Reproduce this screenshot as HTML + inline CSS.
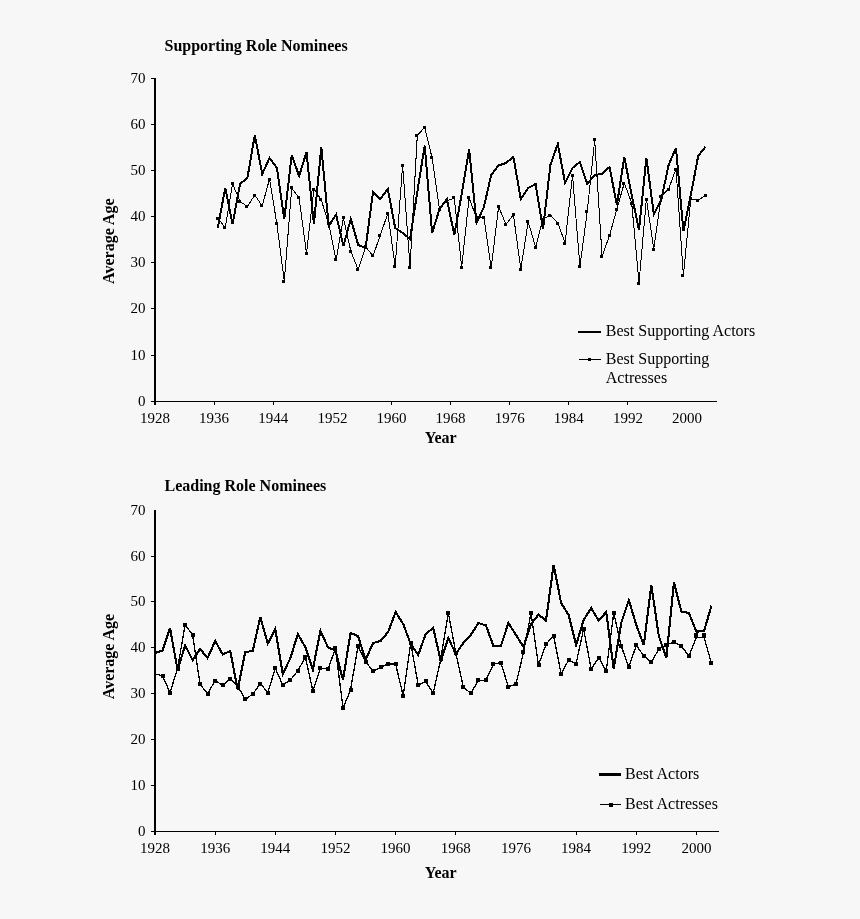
<!DOCTYPE html>
<html><head><meta charset="utf-8"><title>Chart</title><style>html,body{margin:0;padding:0;background:#f7f7f7}body{width:860px;height:919px;overflow:hidden}svg{display:block;will-change:transform}</style></head><body>
<svg width="860" height="919" viewBox="0 0 860 919">
<style>.t{font:15px "Liberation Serif",serif;fill:#000}.b{font:bold 16px "Liberation Serif",serif;fill:#000}.l{font:16px "Liberation Serif",serif;fill:#000}</style>
<text x="164.5" y="50.5" class="b">Supporting Role Nominees</text>
<rect x="154" y="78" width="2" height="327" fill="#000"/>
<rect x="154" y="401" width="563" height="1" fill="#000"/>
<rect x="151" y="401" width="4" height="1" fill="#000"/>
<text x="145.5" y="406" text-anchor="end" class="t">0</text>
<rect x="151" y="355" width="4" height="1" fill="#000"/>
<text x="145.5" y="360" text-anchor="end" class="t">10</text>
<rect x="151" y="308" width="4" height="1" fill="#000"/>
<text x="145.5" y="313" text-anchor="end" class="t">20</text>
<rect x="151" y="262" width="4" height="1" fill="#000"/>
<text x="145.5" y="267" text-anchor="end" class="t">30</text>
<rect x="151" y="216" width="4" height="1" fill="#000"/>
<text x="145.5" y="221" text-anchor="end" class="t">40</text>
<rect x="151" y="170" width="4" height="1" fill="#000"/>
<text x="145.5" y="175" text-anchor="end" class="t">50</text>
<rect x="151" y="124" width="4" height="1" fill="#000"/>
<text x="145.5" y="129" text-anchor="end" class="t">60</text>
<rect x="151" y="78" width="4" height="1" fill="#000"/>
<text x="145.5" y="83" text-anchor="end" class="t">70</text>
<text x="155.0" y="422.5" text-anchor="middle" class="t">1928</text>
<rect x="214" y="401" width="1" height="4" fill="#000"/>
<text x="214.1" y="422.5" text-anchor="middle" class="t">1936</text>
<rect x="273" y="401" width="1" height="4" fill="#000"/>
<text x="273.2" y="422.5" text-anchor="middle" class="t">1944</text>
<text x="332.4" y="422.5" text-anchor="middle" class="t">1952</text>
<rect x="391" y="401" width="1" height="4" fill="#000"/>
<text x="391.5" y="422.5" text-anchor="middle" class="t">1960</text>
<rect x="450" y="401" width="1" height="4" fill="#000"/>
<text x="450.6" y="422.5" text-anchor="middle" class="t">1968</text>
<rect x="509" y="401" width="1" height="4" fill="#000"/>
<text x="509.7" y="422.5" text-anchor="middle" class="t">1976</text>
<rect x="568" y="401" width="1" height="4" fill="#000"/>
<text x="568.8" y="422.5" text-anchor="middle" class="t">1984</text>
<rect x="627" y="401" width="1" height="4" fill="#000"/>
<text x="628.0" y="422.5" text-anchor="middle" class="t">1992</text>
<text x="687.1" y="422.5" text-anchor="middle" class="t">2000</text>
<text x="440.7" y="443" text-anchor="middle" class="b">Year</text>
<text transform="translate(113.8,241.2) rotate(-90)" text-anchor="middle" class="b">Average Age</text>
<g shape-rendering="crispEdges" fill="none" stroke="#000" stroke-linejoin="miter">
<polyline points="217.8,218.4 225.2,227.4 232.6,184.0 240.0,201.4 247.4,206.4 254.8,195.0 262.2,206.0 269.5,179.0 276.9,224.0 284.3,281.4 291.7,188.0 299.1,198.0 306.5,253.2 313.9,189.0 321.3,200.0 328.7,224.0 336.1,259.8 343.4,218.0 350.8,251.0 358.2,269.8 365.6,246.8 373.0,256.0 380.4,235.0 387.8,213.4 395.2,266.4 402.6,165.0 410.0,267.0 417.3,135.4 424.7,127.4 432.1,158.0 439.5,209.0 446.9,201.0 454.3,198.0 461.7,267.0 469.1,198.0 476.5,218.0 483.9,217.0 491.2,268.0 498.6,206.6 506.0,224.6 513.4,214.6 520.8,269.0 528.2,221.8 535.6,247.0 543.0,219.0 550.4,215.0 557.8,223.0 565.1,243.0 572.5,175.0 579.9,266.4 587.3,211.0 594.7,140.0 602.1,256.4 609.5,235.6 616.9,209.0 624.3,183.0 631.7,203.0 639.0,283.0 646.4,199.0 653.8,249.0 661.2,196.6 668.6,189.0 676.0,169.0 683.4,275.6 690.8,198.6 698.2,200.6 705.6,195.0" stroke-width="1"/>
<polyline points="217.8,228.0 225.2,188.0 232.6,224.0 240.0,184.0 247.4,178.0 254.8,135.0 262.2,174.0 269.5,158.0 276.9,168.0 284.3,219.0 291.7,155.0 299.1,176.0 306.5,152.2 313.9,224.0 321.3,147.2 328.7,226.0 336.1,214.6 343.4,246.0 350.8,219.0 358.2,245.0 365.6,248.0 373.0,192.0 380.4,199.0 387.8,189.0 395.2,228.0 402.6,233.0 410.0,239.0 417.3,192.0 424.7,145.6 432.1,233.0 439.5,209.0 446.9,199.0 454.3,235.0 461.7,194.0 469.1,149.2 476.5,223.0 483.9,207.0 491.2,175.0 498.6,165.4 506.0,163.0 513.4,157.0 520.8,199.0 528.2,188.0 535.6,184.0 543.0,229.0 550.4,165.0 557.8,144.0 565.1,183.0 572.5,168.0 579.9,162.0 587.3,184.0 594.7,175.0 602.1,174.0 609.5,167.0 616.9,205.0 624.3,157.0 631.7,195.0 639.0,230.0 646.4,158.0 653.8,214.0 661.2,200.0 668.6,165.0 676.0,148.0 683.4,231.0 690.8,195.0 698.2,156.0 705.6,146.6" stroke-width="2"/>
</g>
<g fill="#000" shape-rendering="crispEdges"><rect x="216" y="217" width="3" height="3"/><rect x="223" y="226" width="3" height="3"/><rect x="231" y="182" width="3" height="3"/><rect x="238" y="200" width="3" height="3"/><rect x="245" y="205" width="3" height="3"/><rect x="253" y="194" width="3" height="3"/><rect x="260" y="204" width="3" height="3"/><rect x="268" y="178" width="3" height="3"/><rect x="275" y="222" width="3" height="3"/><rect x="282" y="280" width="3" height="3"/><rect x="290" y="186" width="3" height="3"/><rect x="297" y="196" width="3" height="3"/><rect x="305" y="252" width="3" height="3"/><rect x="312" y="188" width="3" height="3"/><rect x="319" y="198" width="3" height="3"/><rect x="327" y="222" width="3" height="3"/><rect x="334" y="258" width="3" height="3"/><rect x="342" y="216" width="3" height="3"/><rect x="349" y="250" width="3" height="3"/><rect x="356" y="268" width="3" height="3"/><rect x="364" y="245" width="3" height="3"/><rect x="371" y="254" width="3" height="3"/><rect x="378" y="234" width="3" height="3"/><rect x="386" y="212" width="3" height="3"/><rect x="393" y="265" width="3" height="3"/><rect x="401" y="164" width="3" height="3"/><rect x="408" y="266" width="3" height="3"/><rect x="415" y="134" width="3" height="3"/><rect x="423" y="126" width="3" height="3"/><rect x="430" y="156" width="3" height="3"/><rect x="438" y="208" width="3" height="3"/><rect x="445" y="200" width="3" height="3"/><rect x="452" y="196" width="3" height="3"/><rect x="460" y="266" width="3" height="3"/><rect x="467" y="196" width="3" height="3"/><rect x="475" y="216" width="3" height="3"/><rect x="482" y="216" width="3" height="3"/><rect x="489" y="266" width="3" height="3"/><rect x="497" y="205" width="3" height="3"/><rect x="504" y="223" width="3" height="3"/><rect x="512" y="213" width="3" height="3"/><rect x="519" y="268" width="3" height="3"/><rect x="526" y="220" width="3" height="3"/><rect x="534" y="246" width="3" height="3"/><rect x="541" y="218" width="3" height="3"/><rect x="548" y="214" width="3" height="3"/><rect x="556" y="222" width="3" height="3"/><rect x="563" y="242" width="3" height="3"/><rect x="571" y="174" width="3" height="3"/><rect x="578" y="265" width="3" height="3"/><rect x="585" y="210" width="3" height="3"/><rect x="593" y="138" width="3" height="3"/><rect x="600" y="255" width="3" height="3"/><rect x="608" y="234" width="3" height="3"/><rect x="615" y="208" width="3" height="3"/><rect x="622" y="182" width="3" height="3"/><rect x="630" y="202" width="3" height="3"/><rect x="637" y="282" width="3" height="3"/><rect x="645" y="198" width="3" height="3"/><rect x="652" y="248" width="3" height="3"/><rect x="659" y="195" width="3" height="3"/><rect x="667" y="188" width="3" height="3"/><rect x="674" y="168" width="3" height="3"/><rect x="681" y="274" width="3" height="3"/><rect x="689" y="197" width="3" height="3"/><rect x="696" y="199" width="3" height="3"/><rect x="704" y="194" width="3" height="3"/></g>
<rect x="578" y="331" width="23" height="2" fill="#000"/>
<text x="605.8" y="336" class="l">Best Supporting Actors</text>
<rect x="579" y="359" width="22" height="1" fill="#000"/><rect x="588" y="358" width="3" height="3" fill="#000"/>
<text x="605.8" y="364" class="l">Best Supporting</text>
<text x="605.8" y="382.6" class="l">Actresses</text>
<text x="164.5" y="491" class="b">Leading Role Nominees</text>
<rect x="154" y="510" width="2" height="325" fill="#000"/>
<rect x="154" y="831" width="565" height="1" fill="#000"/>
<rect x="151" y="831" width="4" height="1" fill="#000"/>
<text x="145.5" y="836" text-anchor="end" class="t">0</text>
<rect x="151" y="785" width="4" height="1" fill="#000"/>
<text x="145.5" y="790" text-anchor="end" class="t">10</text>
<rect x="151" y="739" width="4" height="1" fill="#000"/>
<text x="145.5" y="744" text-anchor="end" class="t">20</text>
<rect x="151" y="693" width="4" height="1" fill="#000"/>
<text x="145.5" y="698" text-anchor="end" class="t">30</text>
<rect x="151" y="647" width="4" height="1" fill="#000"/>
<text x="145.5" y="652" text-anchor="end" class="t">40</text>
<rect x="151" y="601" width="4" height="1" fill="#000"/>
<text x="145.5" y="606" text-anchor="end" class="t">50</text>
<rect x="151" y="556" width="4" height="1" fill="#000"/>
<text x="145.5" y="561" text-anchor="end" class="t">60</text>
<text x="145.5" y="515" text-anchor="end" class="t">70</text>
<text x="155.0" y="853" text-anchor="middle" class="t">1928</text>
<rect x="215" y="831" width="1" height="4" fill="#000"/>
<text x="215.2" y="853" text-anchor="middle" class="t">1936</text>
<rect x="275" y="831" width="1" height="4" fill="#000"/>
<text x="275.3" y="853" text-anchor="middle" class="t">1944</text>
<rect x="335" y="831" width="1" height="4" fill="#000"/>
<text x="335.5" y="853" text-anchor="middle" class="t">1952</text>
<rect x="395" y="831" width="1" height="4" fill="#000"/>
<text x="395.6" y="853" text-anchor="middle" class="t">1960</text>
<rect x="455" y="831" width="1" height="4" fill="#000"/>
<text x="455.8" y="853" text-anchor="middle" class="t">1968</text>
<text x="516.0" y="853" text-anchor="middle" class="t">1976</text>
<rect x="576" y="831" width="1" height="4" fill="#000"/>
<text x="576.1" y="853" text-anchor="middle" class="t">1984</text>
<rect x="636" y="831" width="1" height="4" fill="#000"/>
<text x="636.3" y="853" text-anchor="middle" class="t">1992</text>
<rect x="696" y="831" width="1" height="4" fill="#000"/>
<text x="696.4" y="853" text-anchor="middle" class="t">2000</text>
<text x="440.7" y="878" text-anchor="middle" class="b">Year</text>
<text transform="translate(113.8,656.5) rotate(-90)" text-anchor="middle" class="b">Average Age</text>
<g shape-rendering="crispEdges" fill="none" stroke="#000" stroke-linejoin="miter">
<polyline points="155.0,674.0 162.5,675.6 170.0,692.6 177.6,668.6 185.1,624.6 192.6,635.0 200.1,684.4 207.6,693.6 215.2,680.6 222.7,685.4 230.2,678.6 237.7,686.0 245.2,699.4 252.8,694.0 260.3,683.6 267.8,692.6 275.3,668.4 282.8,685.0 290.4,680.0 297.9,670.6 305.4,657.0 312.9,691.0 320.4,668.0 328.0,669.0 335.5,648.4 343.0,708.0 350.5,690.4 358.0,646.0 365.6,662.0 373.1,671.0 380.6,667.4 388.1,664.0 395.6,664.0 403.2,696.0 410.7,643.0 418.2,685.0 425.7,681.4 433.2,693.4 440.8,659.0 448.3,612.6 455.8,653.0 463.3,687.0 470.8,693.4 478.4,680.4 485.9,680.4 493.4,664.0 500.9,662.6 508.4,687.0 516.0,684.0 523.5,652.4 531.0,613.0 538.5,665.0 546.0,644.4 553.6,635.6 561.1,674.0 568.6,660.0 576.1,663.6 583.6,629.0 591.2,669.0 598.7,657.6 606.2,671.0 613.7,613.0 621.2,646.0 628.8,667.0 636.3,645.4 643.8,656.0 651.3,662.4 658.8,649.0 666.4,645.0 673.9,642.0 681.4,646.0 688.9,656.0 696.4,637.2 704.0,637.2 711.5,663.4" stroke-width="1.3"/>
<polyline points="155.0,653.0 162.5,650.6 170.0,628.0 177.6,670.0 185.1,645.4 192.6,660.0 200.1,649.0 207.6,658.0 215.2,641.0 222.7,654.4 230.2,651.0 237.7,689.4 245.2,652.4 252.8,650.6 260.3,617.0 267.8,643.6 275.3,629.0 282.8,674.0 290.4,658.0 297.9,634.0 305.4,647.4 312.9,669.4 320.4,630.6 328.0,647.4 335.5,650.6 343.0,680.0 350.5,633.0 358.0,636.0 365.6,660.0 373.1,643.0 380.6,641.0 388.1,632.0 395.6,612.0 403.2,624.0 410.7,644.0 418.2,655.0 425.7,634.0 433.2,628.0 440.8,661.0 448.3,638.0 455.8,654.0 463.3,643.0 470.8,635.0 478.4,623.0 485.9,625.4 493.4,646.0 500.9,646.0 508.4,623.0 516.0,635.0 523.5,647.0 531.0,624.0 538.5,614.6 546.0,620.6 553.6,565.0 561.1,603.0 568.6,615.0 576.1,645.0 583.6,620.0 591.2,608.0 598.7,620.6 606.2,612.0 613.7,669.0 621.2,623.0 628.8,600.0 636.3,625.0 643.8,645.0 651.3,585.0 658.8,636.0 666.4,658.0 673.9,582.2 681.4,611.6 688.9,613.0 696.4,631.6 704.0,631.2 711.5,605.6" stroke-width="2.1"/>
</g>
<g fill="#000" shape-rendering="crispEdges"><rect x="161" y="674" width="4" height="4"/><rect x="168" y="691" width="4" height="4"/><rect x="176" y="667" width="4" height="4"/><rect x="183" y="623" width="4" height="4"/><rect x="191" y="633" width="4" height="4"/><rect x="198" y="682" width="4" height="4"/><rect x="206" y="692" width="4" height="4"/><rect x="213" y="679" width="4" height="4"/><rect x="221" y="683" width="4" height="4"/><rect x="228" y="677" width="4" height="4"/><rect x="236" y="684" width="4" height="4"/><rect x="243" y="697" width="4" height="4"/><rect x="251" y="692" width="4" height="4"/><rect x="258" y="682" width="4" height="4"/><rect x="266" y="691" width="4" height="4"/><rect x="273" y="666" width="4" height="4"/><rect x="281" y="683" width="4" height="4"/><rect x="288" y="678" width="4" height="4"/><rect x="296" y="669" width="4" height="4"/><rect x="303" y="655" width="4" height="4"/><rect x="311" y="689" width="4" height="4"/><rect x="318" y="666" width="4" height="4"/><rect x="326" y="667" width="4" height="4"/><rect x="333" y="646" width="4" height="4"/><rect x="341" y="706" width="4" height="4"/><rect x="349" y="688" width="4" height="4"/><rect x="356" y="644" width="4" height="4"/><rect x="364" y="660" width="4" height="4"/><rect x="371" y="669" width="4" height="4"/><rect x="379" y="665" width="4" height="4"/><rect x="386" y="662" width="4" height="4"/><rect x="394" y="662" width="4" height="4"/><rect x="401" y="694" width="4" height="4"/><rect x="409" y="641" width="4" height="4"/><rect x="416" y="683" width="4" height="4"/><rect x="424" y="679" width="4" height="4"/><rect x="431" y="691" width="4" height="4"/><rect x="439" y="657" width="4" height="4"/><rect x="446" y="611" width="4" height="4"/><rect x="454" y="651" width="4" height="4"/><rect x="461" y="685" width="4" height="4"/><rect x="469" y="691" width="4" height="4"/><rect x="476" y="678" width="4" height="4"/><rect x="484" y="678" width="4" height="4"/><rect x="491" y="662" width="4" height="4"/><rect x="499" y="661" width="4" height="4"/><rect x="506" y="685" width="4" height="4"/><rect x="514" y="682" width="4" height="4"/><rect x="521" y="650" width="4" height="4"/><rect x="529" y="611" width="4" height="4"/><rect x="537" y="663" width="4" height="4"/><rect x="544" y="642" width="4" height="4"/><rect x="552" y="634" width="4" height="4"/><rect x="559" y="672" width="4" height="4"/><rect x="567" y="658" width="4" height="4"/><rect x="574" y="662" width="4" height="4"/><rect x="582" y="627" width="4" height="4"/><rect x="589" y="667" width="4" height="4"/><rect x="597" y="656" width="4" height="4"/><rect x="604" y="669" width="4" height="4"/><rect x="612" y="611" width="4" height="4"/><rect x="619" y="644" width="4" height="4"/><rect x="627" y="665" width="4" height="4"/><rect x="634" y="643" width="4" height="4"/><rect x="642" y="654" width="4" height="4"/><rect x="649" y="660" width="4" height="4"/><rect x="657" y="647" width="4" height="4"/><rect x="664" y="643" width="4" height="4"/><rect x="672" y="640" width="4" height="4"/><rect x="679" y="644" width="4" height="4"/><rect x="687" y="654" width="4" height="4"/><rect x="694" y="633" width="4" height="5"/><rect x="702" y="633" width="4" height="5"/><rect x="709" y="661" width="4" height="4"/></g>
<rect x="599" y="773" width="22" height="3" fill="#000"/>
<text x="625" y="778.6" class="l">Best Actors</text>
<rect x="600" y="804" width="21" height="1" fill="#000"/><rect x="609" y="803" width="4" height="4" fill="#000"/>
<text x="625" y="808.8" class="l">Best Actresses</text>
</svg>
</body></html>
